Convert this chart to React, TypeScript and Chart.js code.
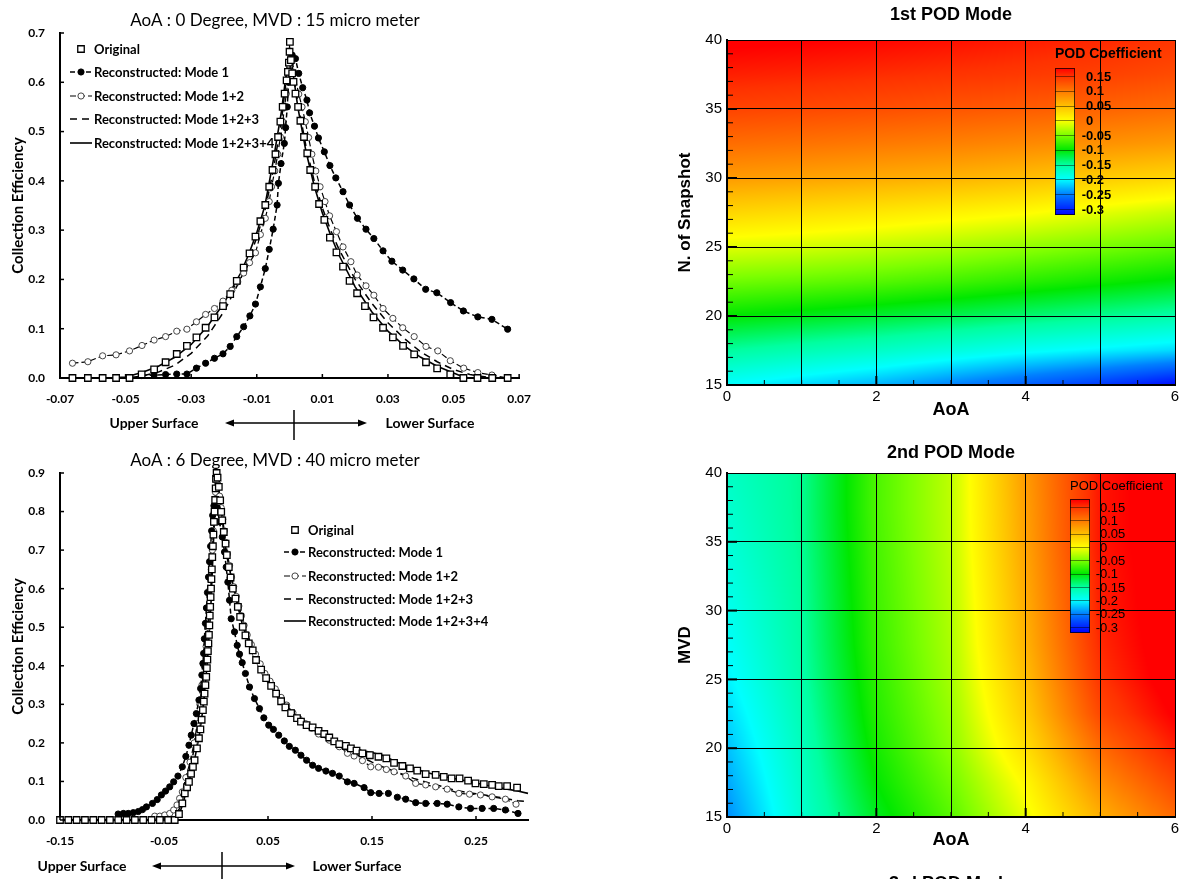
import React, { useEffect, useRef } from 'react';
import { Chart, registerables } from 'chart.js';
Chart.register(...registerables);

type P = [number, number];

// ---------------- Series labels ----------------
const SERIES_LABELS = [
  'Original',
  'Reconstructed: Mode 1',
  'Reconstructed: Mode 1+2',
  'Reconstructed: Mode 1+2+3',
  'Reconstructed: Mode 1+2+3+4',
];

// ---------------- Panel A: AoA 0, MVD 15 ----------------
const A_X_TICKS = [-0.07, -0.05, -0.03, -0.01, 0.01, 0.03, 0.05, 0.07];
const A_Y_TICKS = [0, 0.1, 0.2, 0.3, 0.4, 0.5, 0.6, 0.7];

const A_ORIGINAL: P[] = [
  [-0.0662, 0], [-0.0615, 0], [-0.057, 0], [-0.0529, 0], [-0.0488, 0], [-0.0451, 0.0075], [-0.0413, 0.0176],
  [-0.0378, 0.032], [-0.0344, 0.0487], [-0.0313, 0.065], [-0.0284, 0.0825], [-0.0256, 0.102], [-0.0229, 0.123],
  [-0.0203, 0.146], [-0.0181, 0.17], [-0.0161, 0.197], [-0.014, 0.224], [-0.0122, 0.253], [-0.0104, 0.287],
  [-0.0089, 0.318], [-0.0074, 0.351], [-0.0062, 0.388], [-0.0052, 0.422], [-0.0043, 0.454], [-0.0035, 0.489],
  [-0.0028, 0.52], [-0.0021, 0.55], [-0.0015, 0.577], [-0.0009, 0.604], [-0.0005, 0.621], [-0.0002, 0.64],
  [0, 0.662], [0.0001, 0.682], [0.0004, 0.645], [0.0008, 0.618], [0.0012, 0.601], [0.0018, 0.577], [0.0026, 0.55],
  [0.0033, 0.522], [0.0044, 0.489], [0.0054, 0.456], [0.0063, 0.422], [0.0078, 0.388], [0.009, 0.353],
  [0.0106, 0.321], [0.0123, 0.285], [0.0143, 0.255], [0.0163, 0.226], [0.0183, 0.197], [0.0206, 0.172],
  [0.023, 0.146], [0.0256, 0.123], [0.0285, 0.102], [0.0315, 0.0825], [0.0346, 0.065], [0.038, 0.048],
  [0.0416, 0.032], [0.045, 0.0197], [0.049, 0.0075], [0.053, 0], [0.0573, 0], [0.0618, 0], [0.0665, 0],
];
const A_MODE1: P[] = [
  [-0.0451, 0.005], [-0.0413, 0.006], [-0.0378, 0.007], [-0.0344, 0.008], [-0.0313, 0.008], [-0.0284, 0.02],
  [-0.0256, 0.03], [-0.0229, 0.04], [-0.0203, 0.049], [-0.0181, 0.064], [-0.0161, 0.084], [-0.014, 0.104],
  [-0.0121, 0.126], [-0.0104, 0.15], [-0.0089, 0.185], [-0.0074, 0.222], [-0.0062, 0.261], [-0.005, 0.302],
  [-0.0038, 0.351], [-0.0034, 0.395], [-0.0026, 0.435], [-0.0016, 0.476], [-0.0012, 0.508], [-0.0007, 0.55],
  [-0.0003, 0.6], [0.0003, 0.64], [0.0008, 0.655], [0.0018, 0.648], [0.0028, 0.618], [0.004, 0.589],
  [0.0053, 0.564], [0.0061, 0.538], [0.0076, 0.511], [0.0088, 0.487], [0.0106, 0.459], [0.0123, 0.431],
  [0.0141, 0.406], [0.0163, 0.378], [0.0183, 0.351], [0.0207, 0.324], [0.0233, 0.302], [0.0257, 0.283],
  [0.0285, 0.258], [0.0312, 0.237], [0.0345, 0.219], [0.0379, 0.201], [0.0415, 0.18], [0.0449, 0.173],
  [0.0491, 0.153], [0.053, 0.136], [0.0574, 0.124], [0.0617, 0.119], [0.0665, 0.099],
];
const A_MODE12: P[] = [
  [-0.0662, 0.03], [-0.0615, 0.033], [-0.057, 0.045], [-0.0529, 0.047], [-0.0488, 0.055], [-0.045, 0.066],
  [-0.0413, 0.077], [-0.0378, 0.084], [-0.0344, 0.095], [-0.0313, 0.099], [-0.0284, 0.114], [-0.0256, 0.129],
  [-0.0229, 0.141], [-0.0203, 0.156], [-0.0176, 0.178], [-0.0158, 0.195], [-0.014, 0.213], [-0.0122, 0.234],
  [-0.0104, 0.254], [-0.0089, 0.291], [-0.0074, 0.324], [-0.0062, 0.358], [-0.0055, 0.388], [-0.0045, 0.42],
  [-0.0036, 0.454], [-0.0028, 0.489], [-0.0021, 0.52], [-0.0015, 0.55], [-0.001, 0.577], [-0.0005, 0.604],
  [0, 0.635], [0.0006, 0.655], [0.0014, 0.62], [0.0028, 0.576], [0.0038, 0.55], [0.0048, 0.52], [0.0058, 0.488],
  [0.0068, 0.454], [0.008, 0.42], [0.0093, 0.388], [0.0108, 0.358], [0.0122, 0.329], [0.0143, 0.297],
  [0.0163, 0.266], [0.0187, 0.236], [0.0206, 0.209], [0.0233, 0.187], [0.0257, 0.168], [0.0285, 0.141],
  [0.0315, 0.121], [0.0345, 0.102], [0.038, 0.084], [0.0416, 0.064], [0.0452, 0.055], [0.049, 0.035],
  [0.0531, 0.02], [0.0574, 0.011], [0.0617, 0.006], [0.0665, 0],
];
const A_MODE123: P[] = [
  [-0.07, 0], [-0.05, 0], [-0.045, 0.004], [-0.04, 0.012], [-0.035, 0.026], [-0.03, 0.05], [-0.025, 0.085],
  [-0.02, 0.135], [-0.015, 0.2], [-0.0125, 0.24], [-0.01, 0.285], [-0.0075, 0.34], [-0.005, 0.42],
  [-0.0025, 0.52], [0, 0.665], [0.0025, 0.56], [0.005, 0.47], [0.0075, 0.4], [0.01, 0.345], [0.0125, 0.3],
  [0.015, 0.262], [0.02, 0.2], [0.025, 0.152], [0.03, 0.112], [0.035, 0.08], [0.04, 0.053], [0.045, 0.033],
  [0.05, 0.017], [0.055, 0.007], [0.06, 0.002], [0.065, 0], [0.07, 0],
];
const A_MODE1234: P[] = [
  [-0.07, 0], [-0.055, 0], [-0.05, 0.002], [-0.045, 0.011], [-0.04, 0.024], [-0.035, 0.042], [-0.03, 0.068],
  [-0.025, 0.105], [-0.02, 0.152], [-0.015, 0.212], [-0.0125, 0.25], [-0.01, 0.295], [-0.0075, 0.35],
  [-0.005, 0.44], [-0.0025, 0.54], [0, 0.67], [0.0025, 0.55], [0.005, 0.46], [0.0075, 0.39], [0.01, 0.335],
  [0.0125, 0.29], [0.015, 0.25], [0.02, 0.185], [0.025, 0.135], [0.03, 0.095], [0.035, 0.065], [0.04, 0.042],
  [0.045, 0.024], [0.05, 0.01], [0.053, 0.002], [0.055, 0], [0.07, 0],
];

// ---------------- Panel B: AoA 6, MVD 40 ----------------
const B_X_TICKS = [-0.15, -0.05, 0.05, 0.15, 0.25];
const B_Y_TICKS = [0, 0.1, 0.2, 0.3, 0.4, 0.5, 0.6, 0.7, 0.8, 0.9];

const B_ORIGINAL: P[] = [
  [-0.15, 0], [-0.142, 0], [-0.134, 0], [-0.126, 0], [-0.118, 0], [-0.11, 0], [-0.102, 0], [-0.094, 0],
  [-0.086, 0], [-0.078, 0], [-0.07, 0], [-0.062, 0], [-0.054, 0], [-0.046, 0], [-0.0397, 0],
  [-0.0356, 0.0155], [-0.0324, 0.043], [-0.03, 0.069], [-0.0278, 0.085], [-0.026, 0.099], [-0.024, 0.12],
  [-0.0222, 0.138], [-0.0206, 0.155], [-0.0183, 0.186], [-0.0164, 0.212], [-0.015, 0.235], [-0.0138, 0.26],
  [-0.0126, 0.285], [-0.0117, 0.307], [-0.011, 0.328], [-0.0102, 0.35], [-0.0094, 0.371], [-0.0088, 0.394],
  [-0.0083, 0.416], [-0.0078, 0.438], [-0.0073, 0.458], [-0.0068, 0.48], [-0.0064, 0.505], [-0.006, 0.53],
  [-0.0056, 0.553], [-0.0052, 0.578], [-0.0048, 0.6], [-0.0044, 0.625], [-0.004, 0.65], [-0.0036, 0.682],
  [-0.003, 0.71], [-0.0025, 0.74], [-0.002, 0.773], [-0.0014, 0.8], [-0.0008, 0.83], [-0.0003, 0.86],
  [0, 0.885], [0.0006, 0.9], [0.0015, 0.888], [0.0027, 0.864], [0.004, 0.829], [0.005, 0.799], [0.006, 0.777],
  [0.0075, 0.747], [0.0092, 0.717], [0.0104, 0.687], [0.0123, 0.656], [0.014, 0.629], [0.0162, 0.6],
  [0.0187, 0.574], [0.021, 0.553], [0.0232, 0.527], [0.0257, 0.501], [0.0283, 0.479], [0.0315, 0.458],
  [0.0353, 0.44], [0.0385, 0.415], [0.0434, 0.39], [0.0482, 0.368], [0.053, 0.348], [0.0578, 0.328],
  [0.0626, 0.308], [0.0667, 0.292], [0.0722, 0.277], [0.0779, 0.264], [0.0817, 0.255], [0.0871, 0.246],
  [0.0929, 0.24], [0.0986, 0.231], [0.1041, 0.223], [0.1089, 0.214], [0.1137, 0.204], [0.1185, 0.197],
  [0.1249, 0.192], [0.1297, 0.186], [0.1351, 0.18], [0.1408, 0.173], [0.1479, 0.168], [0.1562, 0.164],
  [0.1638, 0.16], [0.1712, 0.148], [0.1792, 0.14], [0.1865, 0.134], [0.1935, 0.128], [0.2016, 0.119],
  [0.2112, 0.117], [0.219, 0.112], [0.2265, 0.108], [0.2342, 0.108], [0.2424, 0.102], [0.2495, 0.095],
  [0.2575, 0.093], [0.2655, 0.091], [0.2719, 0.088], [0.2799, 0.088], [0.2895, 0.084],
];
const B_MODE1: P[] = [
  [-0.0941, 0.0155], [-0.089, 0.017], [-0.0843, 0.017], [-0.0795, 0.019], [-0.0747, 0.022], [-0.0707, 0.027],
  [-0.0669, 0.034], [-0.0611, 0.043], [-0.0565, 0.053], [-0.0525, 0.065], [-0.0485, 0.075], [-0.0445, 0.086],
  [-0.0407, 0.099], [-0.0366, 0.114], [-0.0324, 0.138], [-0.029, 0.165], [-0.026, 0.194], [-0.0238, 0.22],
  [-0.0212, 0.25], [-0.0189, 0.276], [-0.0164, 0.311], [-0.0148, 0.341], [-0.0136, 0.376], [-0.0126, 0.406],
  [-0.0119, 0.432], [-0.0112, 0.47], [-0.0102, 0.51], [-0.0092, 0.55], [-0.0082, 0.59], [-0.0072, 0.63],
  [-0.0062, 0.67], [-0.0052, 0.71], [-0.0042, 0.75], [-0.0032, 0.79], [-0.002, 0.815], [-0.0005, 0.83],
  [0.0012, 0.81], [0.0034, 0.773], [0.006, 0.734], [0.0082, 0.695], [0.0098, 0.656], [0.0114, 0.617],
  [0.013, 0.57], [0.0146, 0.522], [0.0178, 0.488], [0.0204, 0.453], [0.0226, 0.43], [0.0252, 0.408],
  [0.0283, 0.38], [0.0322, 0.345], [0.037, 0.315], [0.0418, 0.289], [0.046, 0.265], [0.0507, 0.246],
  [0.0552, 0.235], [0.0603, 0.22], [0.0657, 0.205], [0.0705, 0.191], [0.0763, 0.181], [0.0817, 0.168],
  [0.0871, 0.155], [0.0929, 0.142], [0.0986, 0.134], [0.1057, 0.127], [0.112, 0.121], [0.1185, 0.114],
  [0.1264, 0.099], [0.1328, 0.095], [0.1424, 0.084], [0.1488, 0.071], [0.1568, 0.069], [0.1657, 0.069],
  [0.1744, 0.059], [0.1824, 0.054], [0.192, 0.045], [0.2016, 0.043], [0.2127, 0.043], [0.2223, 0.041],
  [0.2335, 0.034], [0.2447, 0.03], [0.2559, 0.03], [0.267, 0.03], [0.2783, 0.026], [0.2904, 0.017],
];
const B_MODE12: P[] = [
  [-0.0589, 0.01], [-0.054, 0.01], [-0.0493, 0.013], [-0.0445, 0.017], [-0.0407, 0.026], [-0.0375, 0.039],
  [-0.035, 0.056], [-0.0324, 0.073], [-0.029, 0.11], [-0.025, 0.15], [-0.021, 0.2], [-0.018, 0.25],
  [-0.0155, 0.3], [-0.0135, 0.35], [-0.0115, 0.4], [-0.0095, 0.45], [-0.008, 0.5], [-0.0068, 0.55],
  [-0.0055, 0.6], [-0.0045, 0.65], [-0.0035, 0.7], [-0.0025, 0.75], [-0.0015, 0.8], [-0.0005, 0.85],
  [0.0005, 0.88], [0.002, 0.87], [0.0035, 0.84], [0.005, 0.81], [0.0065, 0.78], [0.008, 0.75], [0.0095, 0.72],
  [0.011, 0.69], [0.013, 0.66], [0.015, 0.63], [0.017, 0.605], [0.0195, 0.58], [0.022, 0.555], [0.0245, 0.53],
  [0.027, 0.505], [0.03, 0.48], [0.034, 0.455], [0.038, 0.43], [0.0425, 0.405], [0.047, 0.38], [0.052, 0.36],
  [0.057, 0.34], [0.0626, 0.318], [0.068, 0.298], [0.074, 0.278], [0.08, 0.262], [0.086, 0.25], [0.092, 0.238],
  [0.0986, 0.223], [0.1089, 0.207], [0.1185, 0.19], [0.1264, 0.173], [0.1328, 0.166], [0.1408, 0.154],
  [0.1488, 0.138], [0.1562, 0.137], [0.1638, 0.131], [0.1712, 0.125], [0.1824, 0.114], [0.192, 0.095],
  [0.2016, 0.091], [0.2112, 0.086], [0.2223, 0.08], [0.2335, 0.069], [0.2438, 0.067], [0.2543, 0.065],
  [0.2655, 0.06], [0.2783, 0.054], [0.2885, 0.041],
];
const B_MODE123: P[] = [
  [-0.15, 0], [-0.045, 0], [-0.04, 0.008], [-0.035, 0.03], [-0.03, 0.075], [-0.025, 0.13], [-0.02, 0.2],
  [-0.015, 0.3], [-0.01, 0.42], [-0.005, 0.6], [0, 0.88], [0.005, 0.8], [0.01, 0.7], [0.015, 0.63],
  [0.02, 0.57], [0.03, 0.48], [0.04, 0.42], [0.05, 0.37], [0.06, 0.33], [0.07, 0.29], [0.08, 0.265],
  [0.09, 0.245], [0.1, 0.225], [0.11, 0.21], [0.12, 0.195], [0.13, 0.178], [0.14, 0.163], [0.15, 0.15],
  [0.16, 0.138], [0.17, 0.128], [0.18, 0.118], [0.19, 0.108], [0.2, 0.1], [0.21, 0.092], [0.22, 0.085],
  [0.23, 0.077], [0.24, 0.072], [0.25, 0.068], [0.26, 0.064], [0.27, 0.06], [0.28, 0.055], [0.29, 0.05],
  [0.3, 0.048],
];
const B_MODE1234: P[] = [
  [-0.15, 0], [-0.04, 0], [-0.036, 0.01], [-0.032, 0.04], [-0.028, 0.08], [-0.024, 0.12], [-0.02, 0.165],
  [-0.016, 0.22], [-0.012, 0.3], [-0.008, 0.42], [-0.005, 0.55], [-0.002, 0.75], [0, 0.9], [0.003, 0.85],
  [0.006, 0.78], [0.01, 0.69], [0.015, 0.625], [0.02, 0.565], [0.025, 0.51], [0.03, 0.47], [0.04, 0.41],
  [0.05, 0.36], [0.06, 0.315], [0.07, 0.283], [0.08, 0.258], [0.09, 0.243], [0.1, 0.228], [0.11, 0.213],
  [0.12, 0.2], [0.13, 0.19], [0.14, 0.18], [0.15, 0.175], [0.16, 0.168], [0.17, 0.155], [0.18, 0.143],
  [0.19, 0.135], [0.2, 0.125], [0.21, 0.118], [0.22, 0.112], [0.23, 0.107], [0.24, 0.102], [0.25, 0.096],
  [0.26, 0.09], [0.27, 0.085], [0.28, 0.08], [0.29, 0.075], [0.3, 0.069],
];

// ---------------- Heatmaps ----------------
const AOA_NODES = [0, 1, 2, 3, 4, 5, 6];
const Y_NODES = [15, 17.5, 20, 22.5, 25, 27.5, 30, 32.5, 35, 37.5, 40];
const HEAT_X_TICKS = [0, 1, 2, 3, 4, 5, 6];
const HEAT_X_LABELS = ['0', '', '2', '', '4', '', '6'];
const HEAT_Y_TICKS = [15, 20, 25, 30, 35, 40];

// rows: y = 15 ... 40 ; cols: AoA = 0 ... 6
const MODE1_GRID = [
  [-0.2, -0.215, -0.23, -0.25, -0.27, -0.29, -0.315],
  [-0.15, -0.16, -0.17, -0.182, -0.195, -0.205, -0.215],
  [-0.1, -0.108, -0.116, -0.125, -0.135, -0.145, -0.155],
  [-0.055, -0.06, -0.066, -0.074, -0.084, -0.094, -0.104],
  [-0.012, -0.017, -0.024, -0.032, -0.042, -0.052, -0.062],
  [0.032, 0.025, 0.018, 0.01, 0.002, -0.01, -0.022],
  [0.075, 0.07, 0.064, 0.058, 0.05, 0.04, 0.03],
  [0.108, 0.104, 0.099, 0.094, 0.088, 0.082, 0.075],
  [0.138, 0.134, 0.13, 0.125, 0.12, 0.115, 0.108],
  [0.16, 0.157, 0.153, 0.149, 0.145, 0.14, 0.132],
  [0.18, 0.177, 0.173, 0.168, 0.162, 0.156, 0.148],
];
const MODE2_GRID = [
  [-0.245, -0.175, -0.11, -0.065, -0.008, 0.06, 0.11],
  [-0.235, -0.17, -0.1, -0.055, 0.005, 0.085, 0.135],
  [-0.225, -0.165, -0.092, -0.045, 0.025, 0.11, 0.16],
  [-0.215, -0.16, -0.086, -0.04, 0.04, 0.135, 0.178],
  [-0.205, -0.155, -0.082, -0.035, 0.05, 0.148, 0.188],
  [-0.198, -0.152, -0.078, -0.032, 0.058, 0.155, 0.19],
  [-0.192, -0.15, -0.076, -0.03, 0.062, 0.16, 0.19],
  [-0.186, -0.148, -0.074, -0.028, 0.066, 0.162, 0.19],
  [-0.18, -0.146, -0.072, -0.026, 0.07, 0.165, 0.19],
  [-0.175, -0.145, -0.07, -0.025, 0.072, 0.165, 0.19],
  [-0.17, -0.145, -0.07, -0.025, 0.075, 0.165, 0.19],
];
const CBAR_LEVELS = [0.15, 0.1, 0.05, 0, -0.05, -0.1, -0.15, -0.2, -0.25, -0.3];
const CBAR_LABELS = ['0.15', '0.1', '0.05', '0', '-0.05', '-0.1', '-0.15', '-0.2', '-0.25', '-0.3'];

// colormap stops (style)
const CMAP_V = [-0.32, -0.25, -0.2, -0.15, -0.1, -0.05, 0, 0.05, 0.1, 0.15, 0.175];
const CMAP_RGB = [
  [0, 0, 255], [0, 128, 255], [0, 255, 255], [0, 255, 160], [0, 232, 0], [125, 255, 0],
  [255, 255, 0], [255, 190, 0], [255, 120, 0], [255, 50, 0], [255, 0, 0],
];

const FONT_L = 'Lato, "Liberation Sans", sans-serif';
const FONT_H = '"Liberation Sans", Arial, sans-serif';

function cmap(v: number): number[] {
  if (v <= CMAP_V[0]) return CMAP_RGB[0];
  const n = CMAP_V.length;
  if (v >= CMAP_V[n - 1]) return CMAP_RGB[n - 1];
  for (let i = 0; i < n - 1; i++) {
    if (v <= CMAP_V[i + 1]) {
      const t = (v - CMAP_V[i]) / (CMAP_V[i + 1] - CMAP_V[i]);
      const a = CMAP_RGB[i], b = CMAP_RGB[i + 1];
      return [a[0] + (b[0] - a[0]) * t, a[1] + (b[1] - a[1]) * t, a[2] + (b[2] - a[2]) * t];
    }
  }
  return CMAP_RGB[n - 1];
}

const SERIES_STYLE: any[] = [
  { showLine: false, pointStyle: 'rect', pointRadius: 4.6, pointBg: '#fff', pointBorder: '#000', pointBorderWidth: 1.3, borderWidth: 0, borderDash: [] },
  { showLine: true, pointStyle: 'circle', pointRadius: 3.1, pointBg: '#000', pointBorder: '#000', pointBorderWidth: 1, borderWidth: 1.5, borderDash: [5, 3] },
  { showLine: true, pointStyle: 'circle', pointRadius: 3.1, pointBg: '#fff', pointBorder: '#333', pointBorderWidth: 0.9, borderWidth: 1.2, borderDash: [6, 3] },
  { showLine: true, pointStyle: 'circle', pointRadius: 0, pointBg: '#000', pointBorder: '#000', pointBorderWidth: 0, borderWidth: 1.5, borderDash: [7, 5] },
  { showLine: true, pointStyle: 'circle', pointRadius: 0, pointBg: '#000', pointBorder: '#000', pointBorderWidth: 0, borderWidth: 1.6, borderDash: [] },
];

function arrowLine(ctx: CanvasRenderingContext2D, l: number, r: number, y: number) {
  ctx.beginPath();
  ctx.moveTo(l + 4, y);
  ctx.lineTo(r - 4, y);
  ctx.stroke();
  ctx.beginPath();
  ctx.moveTo(l, y); ctx.lineTo(l + 9, y - 3.5); ctx.lineTo(l + 9, y + 3.5); ctx.closePath(); ctx.fill();
  ctx.beginPath();
  ctx.moveTo(r, y); ctx.lineTo(r - 9, y - 3.5); ctx.lineTo(r - 9, y + 3.5); ctx.closePath(); ctx.fill();
}

function drawMarker(ctx: CanvasRenderingContext2D, st: any, x: number, y: number) {
  if (!st.pointRadius) return;
  ctx.save();
  ctx.setLineDash([]);
  ctx.fillStyle = st.pointBg;
  ctx.strokeStyle = st.pointBorder;
  ctx.lineWidth = st.pointBorderWidth;
  ctx.beginPath();
  if (st.pointStyle === 'rect') {
    const s = st.pointRadius * Math.SQRT1_2;
    ctx.rect(x - s, y - s, 2 * s, 2 * s);
  } else {
    ctx.arc(x, y, st.pointRadius, 0, Math.PI * 2);
  }
  ctx.fill();
  ctx.stroke();
  ctx.restore();
}

function createLineChart(canvas: HTMLCanvasElement, spec: any) {
  const datasets = spec.series.map((pts: P[], i: number) => {
    const st = SERIES_STYLE[i];
    return {
      label: SERIES_LABELS[i],
      data: pts.map(([x, y]) => ({ x, y })),
      showLine: st.showLine,
      borderColor: '#000',
      backgroundColor: '#000',
      borderWidth: st.borderWidth,
      borderDash: st.borderDash,
      pointStyle: st.pointStyle,
      pointRadius: st.pointRadius,
      pointHoverRadius: st.pointRadius,
      pointBackgroundColor: st.pointBg,
      pointBorderColor: st.pointBorder,
      pointBorderWidth: st.pointBorderWidth,
      tension: 0,
      fill: false,
      clip: false,
    };
  });

  const deco = {
    id: 'lineDeco',
    afterDraw(chart: any) {
      const { ctx, chartArea: ca, scales } = chart;
      const sx = scales.x, sy = scales.y;
      ctx.save();
      ctx.strokeStyle = '#000';
      ctx.fillStyle = '#000';
      ctx.lineWidth = 1.5;
      spec.xTicks.forEach((v: number) => {
        const px = sx.getPixelForValue(v);
        ctx.beginPath(); ctx.moveTo(px, ca.bottom); ctx.lineTo(px, ca.bottom - 4); ctx.stroke();
      });
      spec.yTicks.forEach((v: number) => {
        const py = sy.getPixelForValue(v);
        ctx.beginPath(); ctx.moveTo(ca.left, py); ctx.lineTo(ca.left + 4, py); ctx.stroke();
      });
      // title
      ctx.font = `17px ${FONT_L}`;
      ctx.textAlign = 'center';
      ctx.textBaseline = 'middle';
      ctx.fillText(spec.title, spec.titleX, spec.titleY);
      // y title
      ctx.save();
      ctx.translate(spec.yTitleX, (ca.top + ca.bottom) / 2);
      ctx.rotate(-Math.PI / 2);
      ctx.font = `bold 15px ${FONT_L}`;
      ctx.fillText('Collection Efficiency', 0, 0);
      ctx.restore();
      // surface labels and arrow
      const su = spec.surface;
      ctx.font = `bold 14px ${FONT_L}`;
      ctx.fillText('Upper Surface', su.upperX, su.y);
      ctx.fillText('Lower Surface', su.lowerX, su.y);
      ctx.lineWidth = 1.3;
      arrowLine(ctx, su.arrowL, su.arrowR, su.y);
      ctx.lineWidth = 1.5;
      ctx.beginPath(); ctx.moveTo(su.barX, su.barTop); ctx.lineTo(su.barX, su.barBottom); ctx.stroke();
      // legend
      const lg = spec.legend;
      ctx.font = `bold 13px ${FONT_L}`;
      ctx.textAlign = 'left';
      SERIES_LABELS.forEach((lab, i) => {
        const st = SERIES_STYLE[i];
        const y = lg.rows[i];
        if (st.showLine) {
          ctx.save();
          ctx.lineWidth = st.borderWidth;
          ctx.setLineDash(st.borderDash);
          ctx.beginPath(); ctx.moveTo(lg.x0, y); ctx.lineTo(lg.x1, y); ctx.stroke();
          ctx.restore();
        }
        drawMarker(ctx, st, (lg.x0 + lg.x1) / 2, y);
        ctx.fillStyle = '#000';
        ctx.fillText(lab, lg.textX, y + 1);
      });
      ctx.restore();
    },
  };

  return new Chart(canvas, {
    type: 'scatter',
    data: { datasets },
    options: {
      animation: false,
      responsive: false,
      devicePixelRatio: 1,
      events: [],
      layout: { padding: { top: spec.padTop, right: spec.padRight, left: 0, bottom: 0 } },
      plugins: { legend: { display: false }, tooltip: { enabled: false }, title: { display: false } },
      scales: {
        x: {
          type: 'linear',
          min: spec.xMin,
          max: spec.xMax,
          afterBuildTicks: (s: any) => { s.ticks = spec.xTicks.map((v: number) => ({ value: v })); },
          afterFit: (s: any) => { s.height = spec.xAxisH; },
          ticks: {
            autoSkip: false, maxRotation: 0, padding: 14, color: '#000',
            font: { family: FONT_L, size: 12, weight: 'bold' },
            callback: (v: any) => Number(v).toFixed(2),
          },
          grid: { display: true, drawOnChartArea: false, drawTicks: false },
          border: { color: '#000', width: 2 },
        },
        y: {
          type: 'linear',
          min: 0,
          max: spec.yMax,
          afterBuildTicks: (s: any) => { s.ticks = spec.yTicks.map((v: number) => ({ value: v })); },
          afterFit: (s: any) => { s.width = 60; },
          ticks: {
            autoSkip: false, padding: 15, color: '#000',
            font: { family: FONT_L, size: 12, weight: 'bold' },
            callback: (v: any) => Number(v).toFixed(1),
          },
          grid: { display: true, drawOnChartArea: false, drawTicks: false },
          border: { color: '#000', width: 2 },
        },
      },
    } as any,
    plugins: [deco],
  });
}

function createHeatChart(canvas: HTMLCanvasElement, spec: any) {
  const heat = {
    id: 'heat',
    beforeDraw(chart: any) {
      const { ctx, chartArea: ca, scales } = chart;
      const sx = scales.x, sy = scales.y;
      const L = Math.round(ca.left), T = Math.round(ca.top);
      const W = Math.round(ca.right) - L, H = Math.round(ca.bottom) - T;
      const img = ctx.createImageData(W, H);
      const xs = AOA_NODES, ys = Y_NODES, g = spec.grid;
      const idx = (arr: number[], v: number) => {
        let i = 0;
        while (i < arr.length - 2 && v > arr[i + 1]) i++;
        const t = Math.max(0, Math.min(1, (v - arr[i]) / (arr[i + 1] - arr[i])));
        return [i, t];
      };
      for (let py = 0; py < H; py++) {
        const vy = sy.getValueForPixel(T + py + 0.5);
        const [j, ty] = idx(ys, vy);
        for (let px = 0; px < W; px++) {
          const vx = sx.getValueForPixel(L + px + 0.5);
          const [i, tx] = idx(xs, vx);
          const v = (1 - tx) * (1 - ty) * g[j][i] + tx * (1 - ty) * g[j][i + 1] +
            (1 - tx) * ty * g[j + 1][i] + tx * ty * g[j + 1][i + 1];
          const c = cmap(v);
          const k = (py * W + px) * 4;
          img.data[k] = c[0]; img.data[k + 1] = c[1]; img.data[k + 2] = c[2]; img.data[k + 3] = 255;
        }
      }
      ctx.putImageData(img, L, T);
    },
  };

  const deco = {
    id: 'heatDeco',
    afterDraw(chart: any) {
      const { ctx, chartArea: ca, scales } = chart;
      const sx = scales.x, sy = scales.y;
      ctx.save();
      ctx.strokeStyle = '#000';
      ctx.fillStyle = '#000';
      // inward ticks
      for (let v = 0.5; v < 6; v += 0.5) {
        const px = sx.getPixelForValue(v);
        const major = v % 2 === 0;
        ctx.lineWidth = major ? 2 : 1;
        ctx.beginPath(); ctx.moveTo(px, ca.bottom); ctx.lineTo(px, ca.bottom - (major ? 9 : 5)); ctx.stroke();
      }
      for (let v = 16; v < 40; v += 1) {
        const py = sy.getPixelForValue(v);
        const major = v % 5 === 0;
        ctx.lineWidth = major ? 2 : 1;
        ctx.beginPath(); ctx.moveTo(ca.left, py); ctx.lineTo(ca.left + (major ? 10 : 6), py); ctx.stroke();
      }
      // title
      ctx.textAlign = 'center';
      ctx.textBaseline = 'middle';
      ctx.font = `bold 18px ${FONT_H}`;
      ctx.fillText(spec.title, (ca.left + ca.right) / 2, spec.titleY);
      ctx.fillText('AoA', (ca.left + ca.right) / 2, spec.xTitleY);
      if (spec.bottomText) {
        ctx.textBaseline = 'top';
        ctx.fillText(spec.bottomText, (ca.left + ca.right) / 2, spec.bottomTextY);
        ctx.textBaseline = 'middle';
      }
      ctx.save();
      ctx.translate(25, (ca.top + ca.bottom) / 2);
      ctx.rotate(-Math.PI / 2);
      ctx.font = `bold 17px ${FONT_H}`;
      ctx.fillText(spec.yTitle, 0, 0);
      ctx.restore();
      // colorbar
      const cb = spec.cbar;
      for (let py = cb.top; py < cb.bottom; py++) {
        const v = CBAR_LEVELS[0] - ((py + 0.5 - cb.lvlTop) / cb.step) * 0.05;
        const c = cmap(v);
        ctx.fillStyle = `rgb(${Math.round(c[0])},${Math.round(c[1])},${Math.round(c[2])})`;
        ctx.fillRect(cb.x, py, cb.w, 1);
      }
      ctx.strokeStyle = 'rgba(0,0,0,0.45)';
      ctx.lineWidth = 1;
      CBAR_LEVELS.forEach((_, li) => {
        const y = Math.round(cb.lvlTop + li * cb.step) + 0.5;
        ctx.beginPath(); ctx.moveTo(cb.x, y); ctx.lineTo(cb.x + cb.w, y); ctx.stroke();
      });
      ctx.strokeStyle = 'rgba(0,0,0,0.75)';
      ctx.strokeRect(cb.x + 0.5, cb.top + 0.5, cb.w - 1, cb.bottom - cb.top - 1);
      ctx.fillStyle = '#000';
      ctx.font = `${cb.bold ? 'bold ' : ''}${cb.titleSize}px ${FONT_H}`;
      ctx.textAlign = 'left';
      ctx.fillText('POD Coefficient', cb.x, cb.titleY);
      ctx.font = `${cb.bold ? 'bold ' : ''}13px ${FONT_H}`;
      CBAR_LABELS.forEach((lab, li) => {
        const y = cb.lvlTop + li * cb.step + 1;
        if (lab.startsWith('-')) {
          ctx.textAlign = 'right';
          ctx.fillText('-', cb.labelX, y);
          ctx.textAlign = 'left';
          ctx.fillText(lab.slice(1), cb.labelX, y);
        } else {
          ctx.textAlign = 'left';
          ctx.fillText(lab, cb.labelX, y);
        }
      });
      ctx.restore();
    },
  };

  return new Chart(canvas, {
    type: 'scatter',
    data: { datasets: [] },
    options: {
      animation: false,
      responsive: false,
      devicePixelRatio: 1,
      events: [],
      layout: { padding: { top: spec.padTop, right: 12, left: 0, bottom: 0 } },
      plugins: { legend: { display: false }, tooltip: { enabled: false }, title: { display: false } },
      scales: {
        x: {
          type: 'linear', min: 0, max: 6,
          afterBuildTicks: (s: any) => { s.ticks = HEAT_X_TICKS.map((v) => ({ value: v })); },
          afterFit: (s: any) => { s.height = spec.xAxisH; },
          ticks: {
            autoSkip: false, maxRotation: 0, padding: 3, color: '#000',
            font: { family: FONT_H, size: 15 },
            callback: (_v: any, i: number) => HEAT_X_LABELS[i],
          },
          grid: { color: '#000', lineWidth: 1, drawTicks: false },
          border: { color: '#000', width: 2 },
        },
        y: {
          type: 'linear', min: 15, max: 40,
          afterBuildTicks: (s: any) => { s.ticks = HEAT_Y_TICKS.map((v) => ({ value: v })); },
          afterFit: (s: any) => { s.width = 67; },
          ticks: {
            autoSkip: false, padding: 5, color: '#000',
            font: { family: FONT_H, size: 15 },
            callback: (v: any) => String(v),
          },
          grid: { color: '#000', lineWidth: 1, drawTicks: false },
          border: { color: '#000', width: 2 },
        },
      },
    } as any,
    plugins: [heat, deco],
  });
}

const SPEC_A = {
  title: 'AoA : 0 Degree, MVD : 15 micro meter', titleX: 275, titleY: 21,
  xMin: -0.07, xMax: 0.07, xTicks: A_X_TICKS, yMax: 0.7, yTicks: A_Y_TICKS,
  series: [A_ORIGINAL, A_MODE1, A_MODE12, A_MODE123, A_MODE1234],
  padTop: 33, padRight: 17, xAxisH: 62, yTitleX: 18,
  legend: { x0: 70, x1: 92, textX: 94, rows: [49, 72, 96, 119, 143] },
  surface: { y: 423, upperX: 154, lowerX: 430, arrowL: 225, arrowR: 367, barX: 294, barTop: 410, barBottom: 440 },
};
const SPEC_B = {
  title: 'AoA : 6 Degree, MVD : 40 micro meter', titleX: 275, titleY: 21,
  xMin: -0.15, xMax: 0.3, xTicks: B_X_TICKS, yMax: 0.9, yTicks: B_Y_TICKS,
  series: [B_ORIGINAL, B_MODE1, B_MODE12, B_MODE123, B_MODE1234],
  padTop: 33, padRight: 17, xAxisH: 59, yTitleX: 18,
  legend: { x0: 284, x1: 306, textX: 308, rows: [90, 112, 136, 159, 181] },
  surface: { y: 426, upperX: 82, lowerX: 357, arrowL: 152, arrowR: 295, barX: 222, barTop: 412, barBottom: 439 },
};
const SPEC_C = {
  title: '1st POD Mode', titleY: 15, yTitle: 'N. of Snapshot', xTitleY: 410, grid: MODE1_GRID,
  padTop: 40, xAxisH: 45,
  cbar: { x: 395, w: 20, top: 68, bottom: 215, lvlTop: 76, step: 14.78, labelX: 426, titleY: 54, titleSize: 14, bold: true },
};
const SPEC_D = {
  title: '2nd POD Mode', titleY: 23, yTitle: 'MVD', xTitleY: 410, grid: MODE2_GRID,
  padTop: 43, xAxisH: 62, bottomText: '3rd POD Mode', bottomTextY: 445,
  cbar: { x: 410, w: 20, top: 69, bottom: 203, lvlTop: 77, step: 13.33, labelX: 440, titleY: 56, titleSize: 13, bold: false },
};

export default function App() {
  const a = useRef<HTMLCanvasElement>(null);
  const b = useRef<HTMLCanvasElement>(null);
  const c = useRef<HTMLCanvasElement>(null);
  const d = useRef<HTMLCanvasElement>(null);

  useEffect(() => {
    const charts = [
      createLineChart(a.current!, SPEC_A),
      createLineChart(b.current!, SPEC_B),
      createHeatChart(c.current!, SPEC_C),
      createHeatChart(d.current!, SPEC_D),
    ];
    return () => charts.forEach((ch) => ch.destroy());
  }, []);

  return (
    <div style={{ position: 'fixed', left: 0, top: 0, width: 1187, height: 879, overflow: 'hidden', background: '#fff' }}>
      <canvas ref={a} width={545} height={440} style={{ position: 'absolute', left: 0, top: 0 }} />
      <canvas ref={b} width={545} height={439} style={{ position: 'absolute', left: 0, top: 440 }} />
      <canvas ref={c} width={527} height={430} style={{ position: 'absolute', left: 660, top: 0 }} />
      <canvas ref={d} width={527} height={449} style={{ position: 'absolute', left: 660, top: 430 }} />
    </div>
  );
}
